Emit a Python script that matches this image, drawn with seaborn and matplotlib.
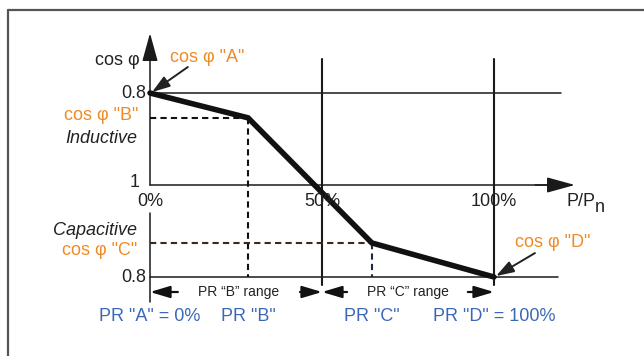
import numpy as np
import pandas as pd
import matplotlib
matplotlib.use("Agg")
import matplotlib.pyplot as plt
import seaborn as sns
from matplotlib.lines import Line2D

# ---------------------------
# data
# ---------------------------
points = ["A", "B", "C", "D"]
power_pct = [0, 28.5, 64.5, 100]          # P/Pn in %
cos_phi = [0.8, 0.854, 0.874, 0.8]
side = [1, 1, -1, -1]                     # +1 inductive, -1 capacitive
x_ticks = [0, 50, 100]
x_tick_labels = ["0%", "50%", "100%"]
pr_labels = ['PR "A" = 0%', 'PR "B"', 'PR "C"', 'PR "D" = 100%']
range_labels = ["PR \u201cB\u201d range", "PR \u201cC\u201d range"]

# distance from cos phi = 1 (positive above the P axis)
q = [s * (1 - c) for s, c in zip(side, cos_phi)]
df = pd.DataFrame({"P": power_pct, "q": q, "point": points})

ORANGE = "#f08a24"
BLUE = "#3a68b8"
DARK = "#1a1a1a"

sns.set_theme(style="white")
plt.rcParams["font.family"] = ["Liberation Sans", "DejaVu Sans"]

fig = plt.figure(figsize=(6.44, 3.56), dpi=100)
ax = fig.add_axes([0, 0, 1, 1])
# pixel layout: 0% at x=150, 100% at x=494, cos=1 at y=185, 0.2 per 92 px
ax.set_xlim(-150 / 3.44, (644 - 150) / 3.44)
ax.set_ylim((185 - 356) / 460, 185 / 460)
ax.axis("off")

# frame (open to right and bottom)
fig.add_artist(Line2D([8 / 644, 8 / 644], [0, 1 - 10 / 356], color="#555555", lw=1.6))
fig.add_artist(Line2D([8 / 644, 1], [1 - 10 / 356, 1 - 10 / 356], color="#555555", lw=1.6))

# axes and grid lines
lw_ax = 1.1
ax.plot([0, 0], [0, 0.30], color=DARK, lw=lw_ax)
ax.plot([0, 0], [-0.061, -0.254], color=DARK, lw=lw_ax)
ax.annotate("", xy=(0, 0.330), xytext=(0, 0.28),
            arrowprops=dict(arrowstyle="-|>,head_length=1.45,head_width=0.4",
                            color=DARK, lw=lw_ax, shrinkA=0, shrinkB=0))
ax.plot([0, 118], [0, 0], color=DARK, lw=lw_ax)
ax.annotate("", xy=(123.5, 0), xytext=(112, 0),
            arrowprops=dict(arrowstyle="-|>,head_length=1.45,head_width=0.4",
                            color=DARK, lw=lw_ax, shrinkA=0, shrinkB=0))
ax.plot([0, 119.5], [0.2, 0.2], color=DARK, lw=lw_ax)
ax.plot([0, 118.6], [-0.2, -0.2], color=DARK, lw=lw_ax)
for xv in x_ticks[1:]:
    ax.plot([xv, xv], [0.274, -0.218], color=DARK, lw=1.5)

# dashed guides for B and C
ax.plot([0, power_pct[1]], [q[1], q[1]], color="#111111", lw=1.5, ls=(0, (3, 2)))
ax.plot([power_pct[1], power_pct[1]], [q[1], -0.2], color="#111111", lw=1.5, ls=(0, (3, 2)))
ax.plot([0, power_pct[2]], [q[2], q[2]], color="#3b2a1c", lw=1.5, ls=(0, (3, 2)))
ax.plot([power_pct[2], power_pct[2]], [q[2], -0.2], color="#1e2a44", lw=1.5, ls=(0, (3, 2)))

# characteristic curve
sns.lineplot(data=df, x="P", y="q", ax=ax, color="#111111", lw=4.0,
             sort=False, legend=False)
ax.lines[-1].set_solid_joinstyle("miter")

fs = 13
# y labels
ax.text(-2.9, 0.27, "cos \u03c6", ha="right", va="center", fontsize=fs, color="#222222")
ax.text(-1.2, 0.2, "0.8", ha="right", va="center", fontsize=fs, color="#222222")
ax.text(-2.9, 0.006, "1", ha="right", va="center", fontsize=fs, color="#222222")
ax.text(-1.2, -0.2, "0.8", ha="right", va="center", fontsize=fs, color="#222222")
ax.text(-3.8, 0.102, "Inductive", ha="right", va="center", fontsize=fs,
        style="italic", color="#222222")
ax.text(-3.8, -0.098, "Capacitive", ha="right", va="center", fontsize=fs,
        style="italic", color="#222222")

# x labels
for xv, lab in zip(x_ticks, x_tick_labels):
    ax.text(xv, -0.035, lab, ha="center", va="center", fontsize=fs, color="#222222")
ax.text(121.2, -0.036, "P/P", ha="left", va="center", fontsize=fs, color="#222222")
ax.text(129.3, -0.05, "n", ha="left", va="center", fontsize=fs, color="#222222")

# cos phi point labels
ax.text(5.8, 0.278, 'cos \u03c6 "A"', ha="left", va="center", fontsize=fs, color=ORANGE)
ax.text(-3.5, 0.15, 'cos \u03c6 "B"', ha="right", va="center", fontsize=fs, color=ORANGE)
ax.text(-3.8, -0.143, 'cos \u03c6 "C"', ha="right", va="center", fontsize=fs, color=ORANGE)
ax.text(106.1, -0.124, 'cos \u03c6 "D"', ha="left", va="center", fontsize=fs, color=ORANGE)
ax.annotate("", xy=(0.6, 0.202), xytext=(11.0, 0.2565),
            arrowprops=dict(arrowstyle="-|>,head_length=0.9,head_width=0.3",
                            color="#222222", lw=1.4, shrinkA=0, shrinkB=0))
ax.annotate("", xy=(100.6, -0.198), xytext=(111.9, -0.148),
            arrowprops=dict(arrowstyle="-|>,head_length=0.9,head_width=0.3",
                            color="#222222", lw=1.4, shrinkA=0, shrinkB=0))

# range row
yr = -0.2326
ax.text(25.6, yr, range_labels[0], ha="center", va="center", fontsize=10,
        color="#222222")
ax.text(75.0, yr, range_labels[1], ha="center", va="center", fontsize=10,
        color="#222222")
for x0, x1 in [(8.1, 0), (43.6, 50), (57.3, 50), (92.4, 100)]:
    ax.annotate("", xy=(x1, yr), xytext=(x0, yr),
                arrowprops=dict(arrowstyle="-|>,head_length=1.0,head_width=0.3",
                                color="#111111", lw=1.6, shrinkA=0, shrinkB=0))

# PR labels
for xv, lab in zip(power_pct, pr_labels):
    ax.text(xv, -0.285, lab, ha="center", va="center", fontsize=fs, color=BLUE)

fig.savefig("out.png", dpi=100)
